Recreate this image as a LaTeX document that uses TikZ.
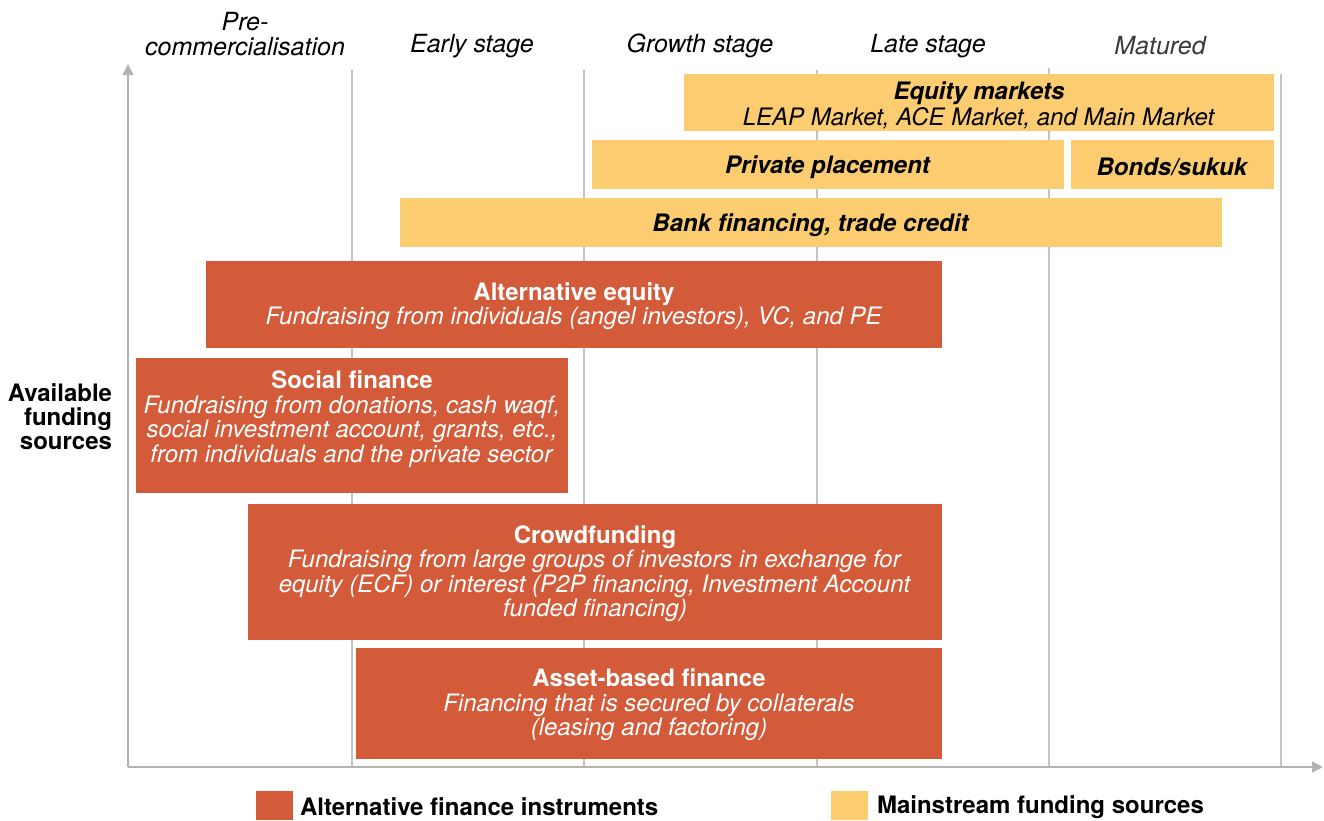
\documentclass[tikz,border=0pt]{standalone}
\usepackage{fontspec}
\setmainfont{TeX Gyre Heros}
\usetikzlibrary{arrows.meta}
\definecolor{altor}{HTML}{D45B39}
\definecolor{mainye}{HTML}{FCCC70}
\definecolor{gridg}{HTML}{C4C4C4}
\definecolor{axisg}{HTML}{B4B2B2}
\definecolor{matg}{HTML}{3A3A3A}
\tikzset{
  base/.style={inner sep=0pt, outer sep=0pt, align=center, font=\fontsize{24}{24.5}\selectfont},
  ybox/.style={inner sep=0pt, outer sep=0pt, fill=mainye, anchor=north west},
  obox/.style={inner sep=0pt, outer sep=0pt, fill=altor, anchor=north west},
  ytxt/.style={base, text=black},
  otxt/.style={base, text=white},
  stagelbl/.style={base, font=\fontsize{25}{25}\selectfont\itshape},
  gridln/.style={draw=gridg, line width=1.2pt},
  axisln/.style={draw=axisg, line width=1.5pt, -{Triangle[length=11pt,width=11pt]}},
  legsq/.style={inner sep=0pt, outer sep=0pt, anchor=north west, minimum width=37pt, minimum height=29pt},
  legtxt/.style={base, anchor=west, font=\fontsize{24}{24}\selectfont\bfseries}
}
\begin{document}
\begin{tikzpicture}[x=1pt,y=-1pt]
\useasboundingbox (0,0) rectangle (1324,820);
% grid lines
\coordinate (g1t) at (352,70); \coordinate (g1b) at (352,767);
\coordinate (g2t) at (584,70); \coordinate (g2b) at (584,767);
\coordinate (g3t) at (817,70); \coordinate (g3b) at (817,767);
\coordinate (g4t) at (1049,68); \coordinate (g4b) at (1049,767);
\coordinate (g5t) at (1281,74); \coordinate (g5b) at (1281,767);
\foreach \g in {g1,g2,g3,g4,g5} \draw[gridln] (\g t) -- (\g b);
% axes
\coordinate (orig) at (128,767);
\coordinate (ytip) at (128,64);
\coordinate (xtip) at (1323,767);
\draw[axisln] (orig) -- (ytip);
\draw[axisln] (orig) -- (xtip);
% stage labels
\node[stagelbl] (s1) at (245,34) {Pre-\\commercialisation};
\node[stagelbl] (s2) at (472,46) {Early stage};
\node[stagelbl] (s3) at (700,46) {Growth stage};
\node[stagelbl] (s4) at (928,46) {Late stage};
\node[stagelbl, text=matg] (s5) at (1160,46) {Matured};
% y label
\node[base, align=right, anchor=east, font=\fontsize{24}{24}\selectfont\bfseries] (ylbl) at (112,417) {Available\\funding\\sources};
% mainstream boxes
\node[ybox, minimum width=590pt, minimum height=57pt] (eq) at (684,74) {};
\node[ytxt] (eqt) at ([yshift=-2.5pt]eq.center)
  {\textbf{\textit{Equity markets}}\\[1.5pt]\textit{LEAP Market, ACE Market, and Main Market}};
\node[ybox, minimum width=472pt, minimum height=49pt] (pp) at (592,140) {};
\node[ytxt] (ppt) at ([yshift=-2.5pt]pp.center) {\textbf{\textit{Private placement}}};
\node[ybox, minimum width=203pt, minimum height=49pt] (bs) at (1071,140) {};
\node[ytxt] (bst) at ([yshift=-2.5pt]bs.center) {\textbf{\textit{Bonds/sukuk}}};
\node[ybox, minimum width=822pt, minimum height=49pt] (bf) at (400,198) {};
\node[ytxt] (bft) at ([yshift=-2.5pt]bf.center) {\textbf{\textit{Bank financing, trade credit}}};
% alternative boxes
\node[obox, minimum width=736pt, minimum height=87pt] (ae) at (206,261) {};
\node[otxt] (aet) at ([yshift=-1.5pt]ae.center)
  {\textbf{Alternative equity}\\\textit{Fundraising from individuals (angel investors), VC, and PE}};
\node[obox, minimum width=432pt, minimum height=135pt] (sf) at (136,358) {};
\node[otxt] (sft) at (352,419)
  {\textbf{Social finance}\\\textit{Fundraising from donations, cash waqf,}\\\textit{social investment account, grants, etc.,}\\\textit{from individuals and the private sector}};
\node[obox, minimum width=694pt, minimum height=136pt] (cf) at (248,504) {};
\node[otxt] (cft) at ([yshift=-1.5pt]cf.center)
  {\textbf{Crowdfunding}\\\textit{Fundraising from large groups of investors in exchange for}\\\textit{equity (ECF) or interest (P2P financing, Investment Account}\\\textit{funded financing)}};
\node[obox, minimum width=586pt, minimum height=111pt] (ab) at (356,648) {};
\node[otxt] (abt) at ([yshift=-1.5pt]ab.center)
  {\textbf{Asset-based finance}\\\textit{Financing that is secured by collaterals}\\\textit{(leasing and factoring)}};
% legend
\node[legsq, fill=altor] (l1) at (256,791) {};
\node[legtxt] (l1t) at (300,807) {Alternative finance instruments};
\node[legsq, fill=mainye] (l2) at (831,791) {};
\node[legtxt] (l2t) at (877,807) {Mainstream funding sources};
\end{tikzpicture}
\end{document}
